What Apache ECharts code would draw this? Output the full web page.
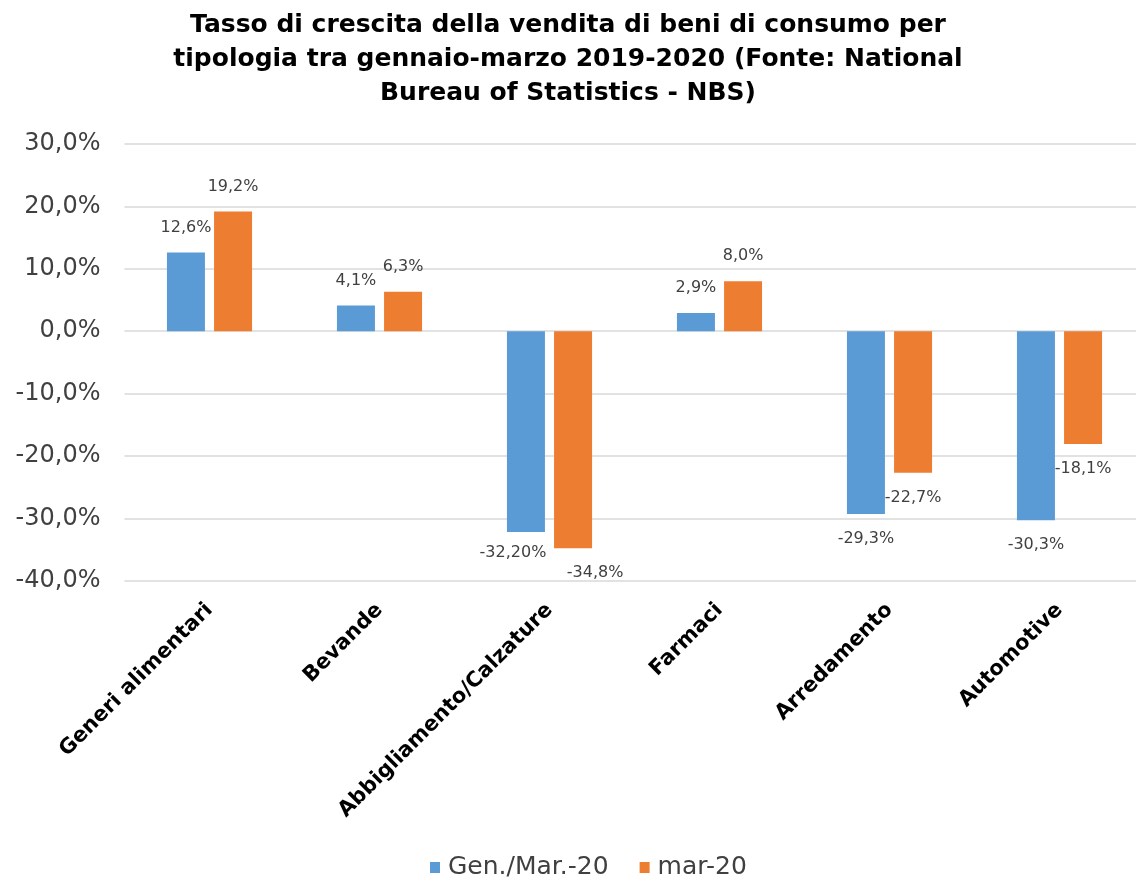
<!DOCTYPE html>
<html>
<head>
<meta charset="utf-8">
<script src="https://cdn.jsdelivr.net/npm/echarts@6/dist/echarts.min.js"></script>
<style>
html,body{margin:0;padding:0;background:#fff;}
#chart{width:1136px;height:879px;}
</style>
</head>
<body>
<div id="chart"></div>
<script>
const titleText = "Tasso di crescita della vendita di beni di consumo per\ntipologia tra gennaio-marzo 2019-2020 (Fonte: National\nBureau of Statistics - NBS)";
const categories = ["Generi alimentari", "Bevande", "Abbigliamento/Calzature", "Farmaci", "Arredamento", "Automotive"];
const seriesNames = ["Gen./Mar.-20", "mar-20"];
const genMar20 = [12.6, 4.1, -32.2, 2.9, -29.3, -30.3];
const mar20 = [19.2, 6.3, -34.8, 8.0, -22.7, -18.1];
const genMar20Labels = ["12,6%", "4,1%", "-32,20%", "2,9%", "-29,3%", "-30,3%"];
const mar20Labels = ["19,2%", "6,3%", "-34,8%", "8,0%", "-22,7%", "-18,1%"];
const yTicks = { min: -40, max: 30, interval: 10 };

// label nudges (style only)
const genOffsets = [null, null, [-13, -4], null, null, null];
const marOffsets = [null, null, [22, 0], null, null, null];

const FONT = "DejaVu Sans";
function build(values, labels, offsets) {
  return values.map((v, i) => {
    const item = { value: v, label: { position: v >= 0 ? 'top' : 'bottom', formatter: labels[i] } };
    if (offsets[i]) item.label.offset = offsets[i];
    return item;
  });
}
const labelStyle = { show: true, distance: 17, fontSize: 16, color: '#404040', fontFamily: FONT };

const chart = echarts.init(document.getElementById('chart'));
chart.setOption({
  animation: false,
  backgroundColor: '#fff',
  title: {
    text: titleText,
    left: 'center',
    top: 3,
    textStyle: { fontFamily: FONT, fontWeight: 'bold', fontSize: 25, lineHeight: 34, color: '#000' }
  },
  legend: {
    data: seriesNames,
    left: 430,
    top: 855,
    padding: 0,
    icon: 'rect',
    itemWidth: 10,
    itemHeight: 11,
    itemGap: 31,
    textStyle: { fontFamily: FONT, fontSize: 25, color: '#404040', padding: [0, 0, 0, 3] }
  },
  grid: { left: 124.5, top: 144, width: 1020, height: 436.7, containLabel: false, outerBoundsMode: 'none' },
  xAxis: {
    type: 'category',
    data: categories,
    axisLine: { show: false, onZero: false },
    axisTick: { show: false },
    axisLabel: { rotate: 45, interval: 0, margin: 26, fontFamily: FONT, fontWeight: 'bold', fontSize: 21, color: '#000' }
  },
  yAxis: {
    type: 'value',
    min: yTicks.min, max: yTicks.max, interval: yTicks.interval,
    axisLine: { show: false },
    axisTick: { show: false },
    splitLine: { lineStyle: { color: '#d9d9d9', width: 1.5 } },
    axisLabel: {
      margin: 24, fontFamily: FONT, fontSize: 24, color: '#404040',
      formatter: v => v.toFixed(1).replace('.', ',') + '%'
    }
  },
  series: [
    { name: seriesNames[0], type: 'bar', data: build(genMar20, genMar20Labels, genOffsets), barWidth: 38, barGap: '24%',
      itemStyle: { color: '#5B9BD5' }, label: labelStyle },
    { name: seriesNames[1], type: 'bar', data: build(mar20, mar20Labels, marOffsets), barWidth: 38, barGap: '24%',
      itemStyle: { color: '#ED7D31' }, label: labelStyle }
  ]
});
</script>
</body>
</html>
